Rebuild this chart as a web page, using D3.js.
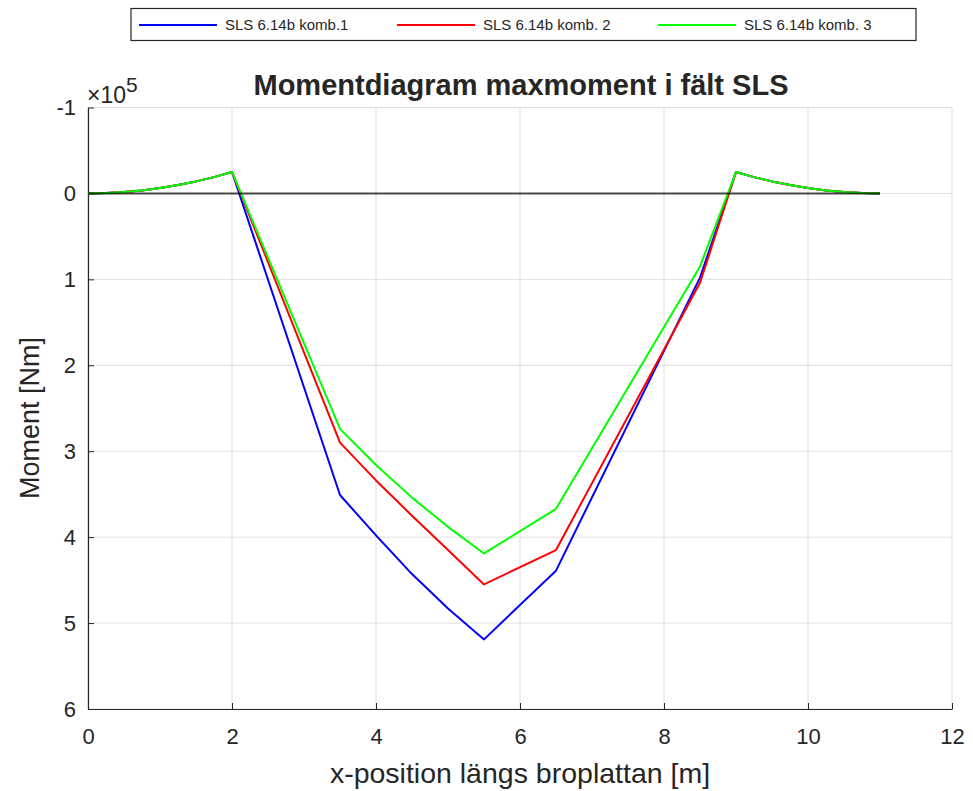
<!DOCTYPE html>
<html><head><meta charset="utf-8">
<script src="https://cdn.jsdelivr.net/npm/d3@7"></script>
<style>body{margin:0;background:#fff}svg{display:block}text{font-family:"Liberation Sans",Arial,Helvetica,sans-serif;fill:#262626}</style>
</head><body><svg id="c" width="973" height="791"></svg>
<script>
// Data (moment in units of 1e5 Nm; positive downward on the plot)
const xPos = [0,0.25,0.5,0.75,1,1.25,1.5,1.75,2,3.5,4,4.5,5,5.5,6.5,8.5,9,9.25,9.5,9.75,10,10.25,10.5,10.75,11];
const cantL = [0,-0.004,-0.016,-0.035,-0.062,-0.097,-0.14,-0.19,-0.25];
const cantR = [-0.25,-0.19,-0.14,-0.097,-0.062,-0.035,-0.016,-0.004,0];
const komb1 = [...cantL, 3.51,3.98,4.43,4.83,5.19,4.39,0.98, ...cantR];
const komb2 = [...cantL, 2.90,3.34,3.75,4.15,4.55,4.15,1.04, ...cantR];
const komb3 = [...cantL, 2.74,3.16,3.54,3.88,4.19,3.67,0.85, ...cantR];
const beamX = [0, 11];
const beamY = [0, 0];
const seriesNames = ["SLS 6.14b komb.1","SLS 6.14b komb. 2","SLS 6.14b komb. 3"];
const seriesColors = ["#0000ff","#ff0000","#00ff00"];
const xTicks = [0,2,4,6,8,10,12];
const yTicks = [-1,0,1,2,3,4,5,6];

const svg = d3.select("#c");
svg.append("rect").attr("width",973).attr("height",791).attr("fill","#fff");
const L=88, R=952, T=107.5, B=709;
const x = d3.scaleLinear().domain([0,12]).range([L,R]);
const y = d3.scaleLinear().domain([-1,6]).range([T,B]);

// grid
const g = svg.append("g");
g.selectAll(".gx").data(xTicks).join("line").attr("x1",d=>x(d)).attr("x2",d=>x(d)).attr("y1",T).attr("y2",B)
 .attr("stroke","#dfdfdf").attr("stroke-width",1);
g.selectAll(".gy").data(yTicks).join("line").attr("y1",d=>y(d)).attr("y2",d=>y(d)).attr("x1",L).attr("x2",R)
 .attr("stroke","#dfdfdf").attr("stroke-width",1);

// axes
const fmt = d => String(d);
const xAxis = d3.axisBottom(x).tickValues(xTicks).tickSizeInner(-6).tickSizeOuter(0).tickPadding(14).tickFormat(fmt);
const yAxis = d3.axisLeft(y).tickValues(yTicks).tickSizeInner(-6).tickSizeOuter(0).tickPadding(12).tickFormat(fmt);
const gx = svg.append("g").attr("transform",`translate(0,${B})`).call(xAxis);
const gy = svg.append("g").attr("transform",`translate(${L},0)`).call(yAxis);
[gx,gy].forEach(a=>{
  a.select(".domain").attr("stroke","#262626").attr("stroke-width",1.2);
  a.selectAll(".tick line").attr("stroke","#262626").attr("stroke-width",1);
  a.selectAll(".tick text").attr("font-size",22).attr("fill","#262626").style("font-family","Liberation Sans, Arial, sans-serif");
});
gx.selectAll(".tick text").attr("dy","0.95em");

// series
const line = d3.line().x(d=>x(d[0])).y(d=>y(d[1]));
const plot = svg.append("g");
[komb1,komb2,komb3].forEach((s,i)=>{
  plot.append("path").attr("d",line(xPos.map((xv,j)=>[xv,s[j]])))
   .attr("fill","none").attr("stroke",seriesColors[i]).attr("stroke-width",2).attr("stroke-linejoin","round");
});
plot.append("path").attr("d",line(beamX.map((xv,j)=>[xv,beamY[j]])))
  .attr("fill","none").attr("stroke","#000").attr("stroke-opacity",0.7).attr("stroke-width",2);

// exponent label
const ex = svg.append("text").attr("x",87).attr("y",103).attr("font-size",23).attr("fill","#555");
ex.append("tspan").attr("font-weight","300").text("\u00d7");
ex.append("tspan").text("10");
ex.append("tspan").attr("dy",-11).attr("font-size",21).text("5");

// title & labels
svg.append("text").attr("x",521).attr("y",95).attr("text-anchor","middle").attr("font-size",29).attr("font-weight","bold").attr("fill","#000").text("Momentdiagram maxmoment i fält SLS");
svg.append("text").attr("x",(L+R)/2).attr("y",783).attr("text-anchor","middle").attr("font-size",28.5).text("x-position längs broplattan [m]");
svg.append("text").attr("transform",`translate(39,418) rotate(-90)`).attr("text-anchor","middle").attr("font-size",27).text("Moment [Nm]");

// legend
const lg = svg.append("g");
lg.append("rect").attr("x",131).attr("y",8.5).attr("width",785).attr("height",32).attr("fill","#fff").attr("stroke","#262626").attr("stroke-width",1.2);
const lx = [139,397,658];
seriesNames.forEach((n,i)=>{
  lg.append("line").attr("x1",lx[i]).attr("x2",lx[i]+78).attr("y1",25).attr("y2",25).attr("stroke",seriesColors[i]).attr("stroke-width",2);
  lg.append("text").attr("x",lx[i]+86).attr("y",30).attr("font-size",15).text(n);
});
</script></body></html>
